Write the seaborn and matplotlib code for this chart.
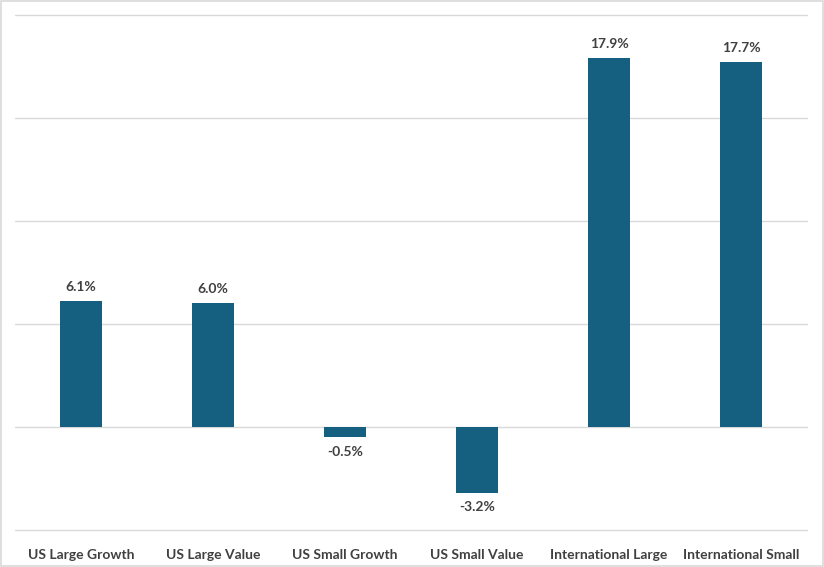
import pandas as pd
import matplotlib
matplotlib.use("Agg")
import matplotlib.pyplot as plt
import seaborn as sns

categories = ["US Large Growth", "US Large Value", "US Small Growth",
              "US Small Value", "International Large", "International Small"]
returns = [6.1, 6.0, -0.5, -3.2, 17.9, 17.7]

df = pd.DataFrame({"category": categories, "return": returns})

sns.set_theme(style="white")
plt.rcParams['font.family'] = ['Lato', 'DejaVu Sans']

bar_color = "#155F80"
text_color = "#404040"

fig = plt.figure(figsize=(8.24, 5.67), dpi=100)
ax = fig.add_axes([15/824, 37/567, 792/824, 515/567])

sns.barplot(data=df, x="category", y="return", color=bar_color,
            width=0.32, saturation=1, linewidth=0, ax=ax, zorder=3)

ax.set_ylim(-5, 20)
ax.set_yticks([-5, 0, 5, 10, 15, 20])
ax.yaxis.grid(True, color="#d9d9d9", linewidth=1, zorder=0)
for gl in ax.get_ygridlines():
    gl.set_clip_on(False)
ax.tick_params(axis="y", left=False, labelleft=False)
ax.tick_params(axis="x", bottom=False, pad=8)
for s in ax.spines.values():
    s.set_visible(False)
ax.set_xlabel("")
ax.set_ylabel("")
ax.set_xlim(-0.5, len(categories) - 0.5)

for lbl in ax.get_xticklabels():
    lbl.set_fontweight("bold")
    lbl.set_fontsize(10)
    lbl.set_color(text_color)

# data labels
for i, v in enumerate(returns):
    off = 6 if v >= 0 else -6
    ax.annotate(f"{v:.1f}%", (i, v), xytext=(0, off), textcoords="offset points",
                ha="center", va="bottom" if v >= 0 else "top",
                fontsize=10, fontweight="bold", color=text_color)

# light border round the figure
fig.patches.append(plt.Rectangle((0.001, 0.001), 0.998, 0.997, transform=fig.transFigure,
                                 fill=False, edgecolor="#d9d9d9", linewidth=1.2))

fig.savefig("out.png", dpi=100)
